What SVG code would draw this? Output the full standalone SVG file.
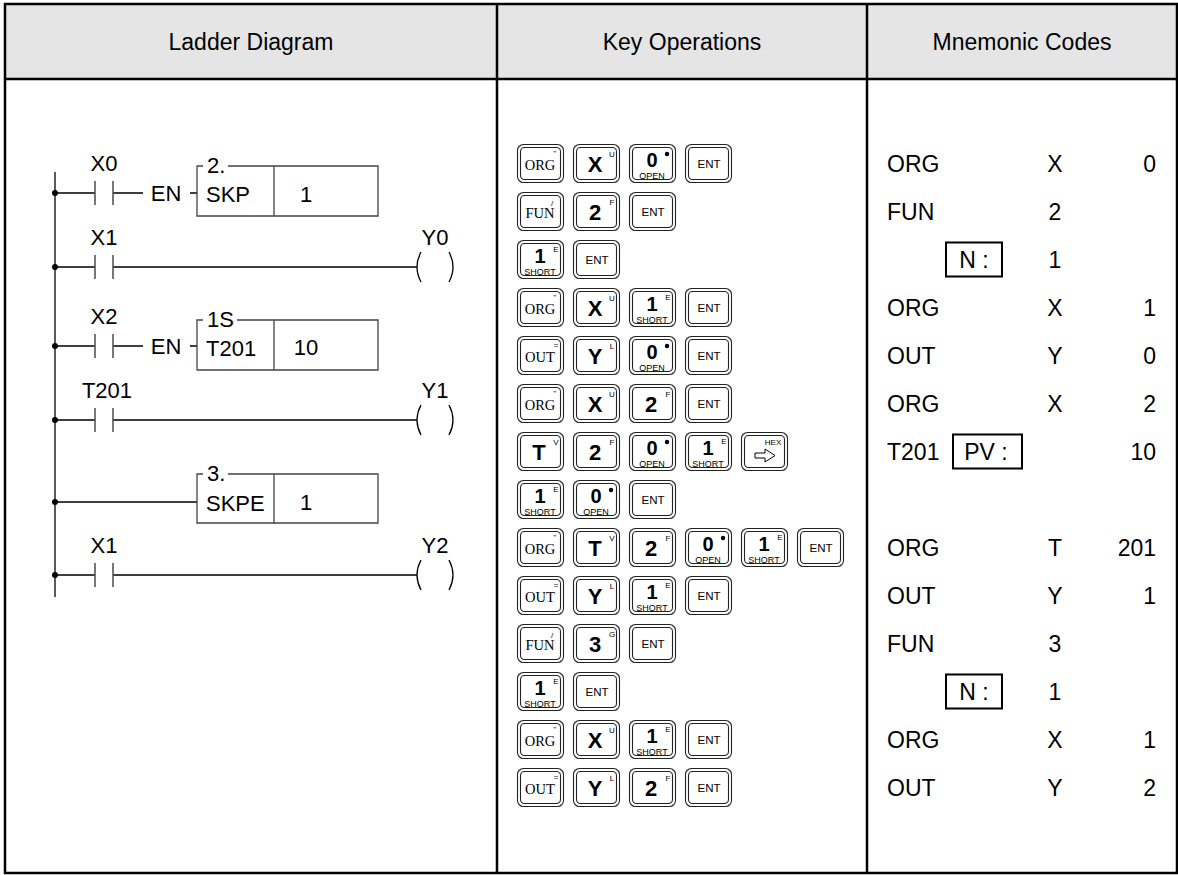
<svg xmlns="http://www.w3.org/2000/svg" xmlns:xlink="http://www.w3.org/1999/xlink" width="1178" height="875" viewBox="0 0 1178 875">
<style>
text{font-family:"Liberation Sans",Arial,sans-serif;fill:#000}
.hd{font-size:23px;text-anchor:middle}
.lt{font-size:22px}
.lc{font-size:22px;text-anchor:middle}
.mn{font-size:23px}
.mc{font-size:23px;text-anchor:middle}
.me{font-size:23px;text-anchor:end}
.ln{stroke:#000;stroke-width:1.3;fill:none}
.pl{stroke:#555;stroke-width:1.6}
.bx{stroke:#444;stroke-width:1.3;fill:none}
.kf{fill:#fff;stroke:#222;stroke-width:1.1}
.ki{fill:none;stroke:#222;stroke-width:1.1}
.ks{font-family:"Liberation Serif","Times New Roman",serif;font-size:14.5px;text-anchor:middle}
.kb{font-size:22px;font-weight:bold;text-anchor:middle}
.kd{font-size:20px;font-weight:bold;text-anchor:middle}
.kt{font-size:8px;text-anchor:middle}
.kl{font-size:9px;text-anchor:middle}
.ke{font-size:11.5px;text-anchor:middle}
</style>
<defs>
<g id="kf"><rect class="kf" x="0.5" y="0.5" width="46" height="38" rx="6"/><rect class="ki" x="3.5" y="3.5" width="40" height="32" rx="4"/></g>
</defs>
<g id="table">
<rect x="5" y="4" width="1172" height="75" fill="#e5e5e5"/>
<rect x="5" y="4" width="1172" height="869" fill="none" stroke="#000" stroke-width="2.5"/>
<line x1="5" y1="79" x2="1177" y2="79" stroke="#000" stroke-width="2.5"/>
<line x1="497" y1="4" x2="497" y2="873" stroke="#000" stroke-width="2.5"/>
<line x1="867" y1="4" x2="867" y2="873" stroke="#000" stroke-width="2.5"/>
<text class="hd" x="251" y="50">Ladder Diagram</text>
<text class="hd" x="682" y="50">Key Operations</text>
<text class="hd" x="1022" y="50">Mnemonic Codes</text>
</g>
<g id="ladder">
<g id="connectors">
<line class="ln" x1="55" y1="172" x2="55" y2="597"/>
<g fill="#000"><circle cx="55" cy="193" r="3"/><circle cx="55" cy="267" r="3"/><circle cx="55" cy="346" r="3"/><circle cx="55" cy="420" r="3"/><circle cx="55" cy="502" r="3"/><circle cx="55" cy="575" r="3"/></g>
<path class="ln" d="M55 193H95M113 193H143M190 193H197M55 267H95M113 267H417M55 346H95M113 346H143M190 346H197M55 420H95M113 420H417M55 502H197M55 575H95M113 575H417"/>
</g>
<g id="c-x0"><line class="pl" x1="95" y1="181" x2="95" y2="205"/><line class="pl" x1="113" y1="181" x2="113" y2="205"/><text class="lc" x="104" y="171">X0</text></g>
<g id="fn-skp">
<text class="lc" x="166" y="201">EN</text>
<path class="bx" d="M203 166H197V216H378V166H228M274 166V216"/>
<text class="lt" x="207" y="173">2.</text>
<text class="lt" x="206" y="202">SKP</text>
<text class="lc" x="306" y="202">1</text>
</g>
<g id="c-x1"><line class="pl" x1="95" y1="255" x2="95" y2="279"/><line class="pl" x1="113" y1="255" x2="113" y2="279"/><text class="lc" x="104" y="245">X1</text></g>
<g id="coil-y0"><path class="ln" d="M421 252Q413 267 421 282M449 252Q457 267 449 282"/><text class="lc" x="435" y="245">Y0</text></g>
<g id="c-x2"><line class="pl" x1="95" y1="334" x2="95" y2="358"/><line class="pl" x1="113" y1="334" x2="113" y2="358"/><text class="lc" x="104" y="324">X2</text></g>
<g id="fn-t201">
<text class="lc" x="166" y="354">EN</text>
<path class="bx" d="M203 320H197V370H378V320H237M274 320V370"/>
<text class="lt" x="207" y="327">1S</text>
<text class="lt" x="206" y="356">T201</text>
<text class="lc" x="306" y="355">10</text>
</g>
<g id="c-t201"><line class="pl" x1="95" y1="408" x2="95" y2="432"/><line class="pl" x1="113" y1="408" x2="113" y2="432"/><text class="lc" x="107" y="398">T201</text></g>
<g id="coil-y1"><path class="ln" d="M421 405Q413 420 421 435M449 405Q457 420 449 435"/><text class="lc" x="435" y="398">Y1</text></g>
<g id="fn-skpe">
<path class="bx" d="M203 474H197V523H378V474H228M274 474V523"/>
<text class="lt" x="207" y="481">3.</text>
<text class="lt" x="206" y="511">SKPE</text>
<text class="lc" x="306" y="510">1</text>
</g>
<g id="c-x1b"><line class="pl" x1="95" y1="563" x2="95" y2="587"/><line class="pl" x1="113" y1="563" x2="113" y2="587"/><text class="lc" x="104" y="553">X1</text></g>
<g id="coil-y2"><path class="ln" d="M421 560Q413 575 421 590M449 560Q457 575 449 590"/><text class="lc" x="435" y="553">Y2</text></g>
</g>
<g id="keys">
<!-- row 0 -->
<g transform="translate(517,144)"><use href="#kf"/><text class="ks" x="23" y="26">ORG</text><text class="kt" x="38" y="12">"</text></g>
<g transform="translate(573,144)"><use href="#kf"/><text class="kb" x="22" y="28">X</text><text class="kt" x="39" y="13">U</text></g>
<g transform="translate(629,144)"><use href="#kf"/><text class="kd" x="23" y="23">0</text><circle cx="38" cy="10" r="2.2"/><text class="kl" x="23" y="35">OPEN</text></g>
<g transform="translate(685,144)"><use href="#kf"/><text class="ke" x="24" y="24">ENT</text></g>
<!-- row 1 -->
<g transform="translate(517,192)"><use href="#kf"/><text class="ks" x="23" y="26">FUN</text><text class="kt" x="35" y="14">/</text></g>
<g transform="translate(573,192)"><use href="#kf"/><text class="kb" x="22" y="28">2</text><text class="kt" x="39" y="13">F</text></g>
<g transform="translate(629,192)"><use href="#kf"/><text class="ke" x="24" y="24">ENT</text></g>
<!-- row 2 -->
<g transform="translate(517,240)"><use href="#kf"/><text class="kd" x="23" y="23">1</text><text class="kt" x="39" y="12">E</text><text class="kl" x="23" y="35">SHORT</text></g>
<g transform="translate(573,240)"><use href="#kf"/><text class="ke" x="24" y="24">ENT</text></g>
<!-- row 3 -->
<g transform="translate(517,288)"><use href="#kf"/><text class="ks" x="23" y="26">ORG</text><text class="kt" x="38" y="12">"</text></g>
<g transform="translate(573,288)"><use href="#kf"/><text class="kb" x="22" y="28">X</text><text class="kt" x="39" y="13">U</text></g>
<g transform="translate(629,288)"><use href="#kf"/><text class="kd" x="23" y="23">1</text><text class="kt" x="39" y="12">E</text><text class="kl" x="23" y="35">SHORT</text></g>
<g transform="translate(685,288)"><use href="#kf"/><text class="ke" x="24" y="24">ENT</text></g>
<!-- row 4 -->
<g transform="translate(517,336)"><use href="#kf"/><text class="ks" x="23" y="26">OUT</text><text class="kt" x="39" y="12">=</text></g>
<g transform="translate(573,336)"><use href="#kf"/><text class="kb" x="22" y="28">Y</text><text class="kt" x="39" y="13">L</text></g>
<g transform="translate(629,336)"><use href="#kf"/><text class="kd" x="23" y="23">0</text><circle cx="38" cy="10" r="2.2"/><text class="kl" x="23" y="35">OPEN</text></g>
<g transform="translate(685,336)"><use href="#kf"/><text class="ke" x="24" y="24">ENT</text></g>
<!-- row 5 -->
<g transform="translate(517,384)"><use href="#kf"/><text class="ks" x="23" y="26">ORG</text><text class="kt" x="38" y="12">"</text></g>
<g transform="translate(573,384)"><use href="#kf"/><text class="kb" x="22" y="28">X</text><text class="kt" x="39" y="13">U</text></g>
<g transform="translate(629,384)"><use href="#kf"/><text class="kb" x="22" y="28">2</text><text class="kt" x="39" y="13">F</text></g>
<g transform="translate(685,384)"><use href="#kf"/><text class="ke" x="24" y="24">ENT</text></g>
<!-- row 6 -->
<g transform="translate(517,432)"><use href="#kf"/><text class="kb" x="22" y="28">T</text><text class="kt" x="39" y="13">V</text></g>
<g transform="translate(573,432)"><use href="#kf"/><text class="kb" x="22" y="28">2</text><text class="kt" x="39" y="13">F</text></g>
<g transform="translate(629,432)"><use href="#kf"/><text class="kd" x="23" y="23">0</text><circle cx="38" cy="10" r="2.2"/><text class="kl" x="23" y="35">OPEN</text></g>
<g transform="translate(685,432)"><use href="#kf"/><text class="kd" x="23" y="23">1</text><text class="kt" x="39" y="12">E</text><text class="kl" x="23" y="35">SHORT</text></g>
<g transform="translate(741,432)"><use href="#kf"/><text class="kt" x="32" y="13">HEX</text><path d="M14 21H24V17L34 23.5L24 30V26H14Z" fill="none" stroke="#000" stroke-width="1"/></g>
<!-- row 7 -->
<g transform="translate(517,480)"><use href="#kf"/><text class="kd" x="23" y="23">1</text><text class="kt" x="39" y="12">E</text><text class="kl" x="23" y="35">SHORT</text></g>
<g transform="translate(573,480)"><use href="#kf"/><text class="kd" x="23" y="23">0</text><circle cx="38" cy="10" r="2.2"/><text class="kl" x="23" y="35">OPEN</text></g>
<g transform="translate(629,480)"><use href="#kf"/><text class="ke" x="24" y="24">ENT</text></g>
<!-- row 8 -->
<g transform="translate(517,528)"><use href="#kf"/><text class="ks" x="23" y="26">ORG</text><text class="kt" x="38" y="12">"</text></g>
<g transform="translate(573,528)"><use href="#kf"/><text class="kb" x="22" y="28">T</text><text class="kt" x="39" y="13">V</text></g>
<g transform="translate(629,528)"><use href="#kf"/><text class="kb" x="22" y="28">2</text><text class="kt" x="39" y="13">F</text></g>
<g transform="translate(685,528)"><use href="#kf"/><text class="kd" x="23" y="23">0</text><circle cx="38" cy="10" r="2.2"/><text class="kl" x="23" y="35">OPEN</text></g>
<g transform="translate(741,528)"><use href="#kf"/><text class="kd" x="23" y="23">1</text><text class="kt" x="39" y="12">E</text><text class="kl" x="23" y="35">SHORT</text></g>
<g transform="translate(797,528)"><use href="#kf"/><text class="ke" x="24" y="24">ENT</text></g>
<!-- row 9 -->
<g transform="translate(517,576)"><use href="#kf"/><text class="ks" x="23" y="26">OUT</text><text class="kt" x="39" y="12">=</text></g>
<g transform="translate(573,576)"><use href="#kf"/><text class="kb" x="22" y="28">Y</text><text class="kt" x="39" y="13">L</text></g>
<g transform="translate(629,576)"><use href="#kf"/><text class="kd" x="23" y="23">1</text><text class="kt" x="39" y="12">E</text><text class="kl" x="23" y="35">SHORT</text></g>
<g transform="translate(685,576)"><use href="#kf"/><text class="ke" x="24" y="24">ENT</text></g>
<!-- row 10 -->
<g transform="translate(517,624)"><use href="#kf"/><text class="ks" x="23" y="26">FUN</text><text class="kt" x="35" y="14">/</text></g>
<g transform="translate(573,624)"><use href="#kf"/><text class="kb" x="22" y="28">3</text><text class="kt" x="39" y="13">G</text></g>
<g transform="translate(629,624)"><use href="#kf"/><text class="ke" x="24" y="24">ENT</text></g>
<!-- row 11 -->
<g transform="translate(517,672)"><use href="#kf"/><text class="kd" x="23" y="23">1</text><text class="kt" x="39" y="12">E</text><text class="kl" x="23" y="35">SHORT</text></g>
<g transform="translate(573,672)"><use href="#kf"/><text class="ke" x="24" y="24">ENT</text></g>
<!-- row 12 -->
<g transform="translate(517,720)"><use href="#kf"/><text class="ks" x="23" y="26">ORG</text><text class="kt" x="38" y="12">"</text></g>
<g transform="translate(573,720)"><use href="#kf"/><text class="kb" x="22" y="28">X</text><text class="kt" x="39" y="13">U</text></g>
<g transform="translate(629,720)"><use href="#kf"/><text class="kd" x="23" y="23">1</text><text class="kt" x="39" y="12">E</text><text class="kl" x="23" y="35">SHORT</text></g>
<g transform="translate(685,720)"><use href="#kf"/><text class="ke" x="24" y="24">ENT</text></g>
<!-- row 13 -->
<g transform="translate(517,768)"><use href="#kf"/><text class="ks" x="23" y="26">OUT</text><text class="kt" x="39" y="12">=</text></g>
<g transform="translate(573,768)"><use href="#kf"/><text class="kb" x="22" y="28">Y</text><text class="kt" x="39" y="13">L</text></g>
<g transform="translate(629,768)"><use href="#kf"/><text class="kb" x="22" y="28">2</text><text class="kt" x="39" y="13">F</text></g>
<g transform="translate(685,768)"><use href="#kf"/><text class="ke" x="24" y="24">ENT</text></g>
</g>
<g id="mnemonic">
<text class="mn" x="887" y="171.5">ORG</text><text class="mc" x="1055" y="171.5">X</text><text class="me" x="1156" y="171.5">0</text>
<text class="mn" x="887" y="219.5">FUN</text><text class="mc" x="1055" y="219.5">2</text>
<rect x="946" y="242.5" width="56" height="34" fill="none" stroke="#000" stroke-width="2"/><text class="mc" x="974" y="267.5">N :</text><text class="mc" x="1055" y="267.5">1</text>
<text class="mn" x="887" y="315.5">ORG</text><text class="mc" x="1055" y="315.5">X</text><text class="me" x="1156" y="315.5">1</text>
<text class="mn" x="887" y="363.5">OUT</text><text class="mc" x="1055" y="363.5">Y</text><text class="me" x="1156" y="363.5">0</text>
<text class="mn" x="887" y="411.5">ORG</text><text class="mc" x="1055" y="411.5">X</text><text class="me" x="1156" y="411.5">2</text>
<text class="mn" x="887" y="459.5">T201</text><rect x="953" y="434.5" width="69" height="34" fill="none" stroke="#000" stroke-width="2"/><text class="mc" x="986" y="459.5">PV :</text><text class="me" x="1156" y="459.5">10</text>
<text class="mn" x="887" y="555.5">ORG</text><text class="mc" x="1055" y="555.5">T</text><text class="me" x="1156" y="555.5">201</text>
<text class="mn" x="887" y="603.5">OUT</text><text class="mc" x="1055" y="603.5">Y</text><text class="me" x="1156" y="603.5">1</text>
<text class="mn" x="887" y="651.5">FUN</text><text class="mc" x="1055" y="651.5">3</text>
<rect x="946" y="674.5" width="56" height="34" fill="none" stroke="#000" stroke-width="2"/><text class="mc" x="974" y="699.5">N :</text><text class="mc" x="1055" y="699.5">1</text>
<text class="mn" x="887" y="747.5">ORG</text><text class="mc" x="1055" y="747.5">X</text><text class="me" x="1156" y="747.5">1</text>
<text class="mn" x="887" y="795.5">OUT</text><text class="mc" x="1055" y="795.5">Y</text><text class="me" x="1156" y="795.5">2</text>
</g>
</svg>
